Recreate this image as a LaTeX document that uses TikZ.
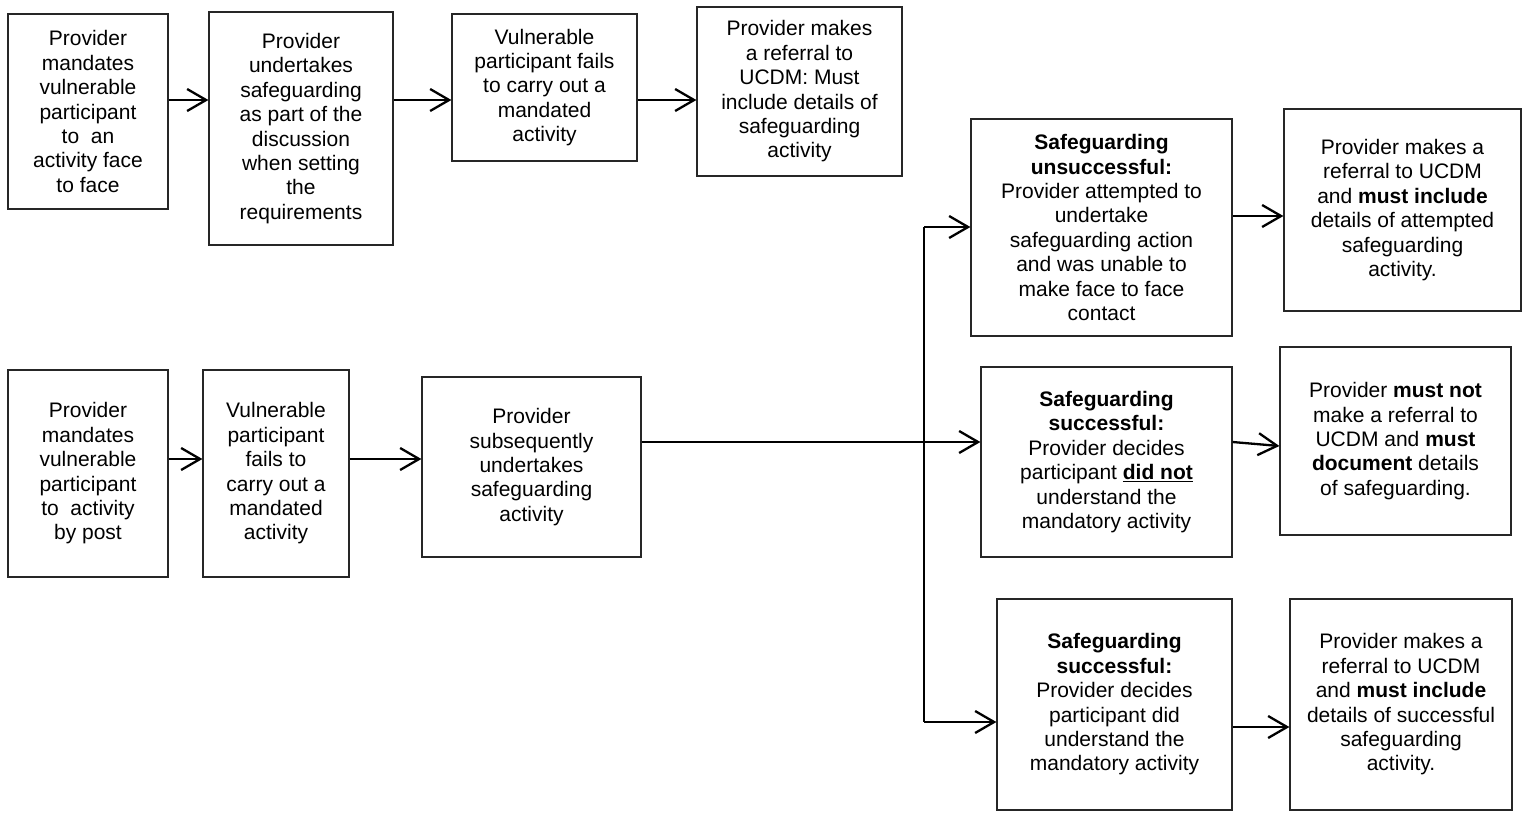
\documentclass[tikz,border=0pt]{standalone}
\usepackage{fontspec}
\setmainfont{Liberation Sans}
\usetikzlibrary{arrows.meta}
\newcommand\boxfont{\fontsize{21}{24.4}\selectfont}
\tikzset{
  box/.style={draw=black!85, line width=1.2pt, inner sep=0pt, align=center, font=\boxfont},
  arr/.style={line width=2.3pt, -{Straight Barb[length=19pt,width=22pt]}},
  link/.style={line width=1.6pt}
}
\begin{document}
\begin{tikzpicture}[x=1pt,y=-1pt]
\fill[white] (0,0) rectangle (1524,812);
\useasboundingbox (0,0) rectangle (1524,812);
% top row
\node[box,minimum width=160,minimum height=195] (B1) at (88,111.5) {Provider\\mandates\\vulnerable\\participant\\to\ \ an\\activity face\\to face};
\node[box,minimum width=184,minimum height=233] (B2) at (301,128.5) {Provider\\undertakes\\safeguarding\\as part of the\\discussion\\when setting\\the\\requirements};
\node[box,minimum width=185,minimum height=147] (B3) at (544.5,87.5) {Vulnerable\\participant fails\\to carry out a\\mandated\\activity};
\node[box,minimum width=205,minimum height=169] (B4) at (799.5,91.5) {Provider makes\\a referral to\\UCDM: Must\\include details of\\safeguarding\\activity};
% bottom-left row
\node[box,minimum width=160,minimum height=207] (L1) at (88,473.5) {Provider\\mandates\\vulnerable\\participant\\to\ \ activity\\by post};
\node[box,minimum width=146,minimum height=207] (L2) at (276,473.5) {Vulnerable\\participant\\fails to\\carry out a\\mandated\\activity};
\node[box,minimum width=219,minimum height=180] (L3) at (531.5,467) {Provider\\subsequently\\undertakes\\safeguarding\\activity};
% outcomes
\node[box,minimum width=261,minimum height=217] (S1) at (1101.5,227.5) {\textbf{Safeguarding}\\\textbf{unsuccessful:}\\Provider attempted to\\undertake\\safeguarding action\\and was unable to\\make face to face\\contact};
\node[box,minimum width=237,minimum height=202] (R1) at (1402.5,210) {Provider makes a\\referral to UCDM\\and \textbf{must include}\\details of attempted\\safeguarding\\activity.};
\node[box,minimum width=251,minimum height=190] (S2) at (1106.5,462) {\textbf{Safeguarding}\\\textbf{successful:}\\Provider decides\\participant \underline{\textbf{did not}}\\understand the\\mandatory activity};
\node[box,minimum width=231,minimum height=188] (R2) at (1395.5,441) {Provider \textbf{must not}\\make a referral to\\UCDM and \textbf{must}\\\textbf{document} details\\of safeguarding.};
\node[box,minimum width=235,minimum height=211] (S3) at (1114.5,704.5) {\textbf{Safeguarding}\\\textbf{successful:}\\Provider decides\\participant did\\understand the\\mandatory activity};
\node[box,minimum width=222,minimum height=211] (R3) at (1401,704.5) {Provider makes a\\referral to UCDM\\and \textbf{must include}\\details of successful\\safeguarding\\activity.};
% connectors top
\draw[arr] (B1.east |- 0,100) -- (B2.west |- 0,100);
\draw[arr] (B2.east |- 0,100) -- (B3.west |- 0,100);
\draw[arr] (B3.east |- 0,100) -- (B4.west |- 0,100);
% connectors bottom
\draw[arr] (L1.east |- 0,459) -- (L2.west |- 0,459);
\draw[arr] (L2.east |- 0,459) -- (L3.west |- 0,459);
\draw[arr] (L3.east |- 0,442) -- (S2.west |- 0,442);
% branch
\coordinate (br1) at (924,227);
\coordinate (br3) at (924,722);
\draw[link] (br1) -- (br3);
\draw[arr] (br1) -- (S1.west |- br1);
\draw[arr] (br3) -- (S3.west |- br3);
% to results
\draw[arr] (S1.east |- 0,216) -- (R1.west |- 0,216);
\draw[arr] (S2.east |- 0,442) -- (R2.west |- 0,446);
\draw[arr] (S3.east |- 0,727) -- (R3.west |- 0,727);
\end{tikzpicture}
\end{document}
